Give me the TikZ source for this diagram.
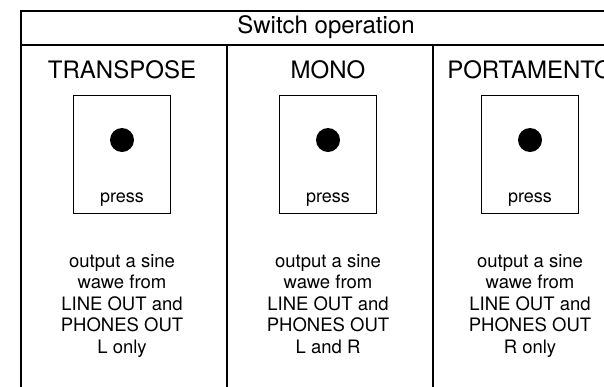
\documentclass[tikz,border=0pt]{standalone}
\usepackage{fontspec}
\setmainfont{TeX Gyre Heros}
\begin{document}
\begin{tikzpicture}[x=1pt,y=-1pt,
  frame/.style={line width=1.4pt},
  title/.style={anchor=base,inner sep=0pt,font=\fontsize{24}{28}\selectfont},
  btn/.style={draw,line width=1pt,minimum width=97pt,minimum height=118pt,inner sep=0pt},
  lamp/.style={circle,fill,minimum size=24pt,inner sep=0pt},
  note/.style={anchor=north,inner sep=0pt,align=center,font=\fontsize{18.5}{21.5}\selectfont}]
\pgfmathsetmacro{\kl}{21}
\pgfmathsetmacro{\kw}{206}
\useasboundingbox[clip](0,0) rectangle (604,386);
%header and column frame
\coordinate (hl) at (\kl,11);
\coordinate (hr) at (\kl+3*\kw,45);
\draw[frame] (hl) rectangle (hr);
\node[title] (head) at (326,33) {Switch operation};
\foreach \i in {0,1,2}
  \draw[frame] (\kl+\i*\kw,45) coordinate (c\i) -- (\kl+\i*\kw,400);
%switches
\foreach \i/\x/\name/\side in {1/122/TRANSPOSE/L only,2/328/MONO/L and R,3/530/PORTAMENTO/R only}{
  \node[title] (t\i) at (\x,78) {\name};
  \node[btn] (b\i) at (\x,154.5) {};
  \node[lamp] (d\i) at (\x,140) {};
  \node[anchor=base,inner sep=0pt,font=\fontsize{18}{21.5}\selectfont] (p\i) at (\x,202) {press};
  \node[note] (o\i) at (\x,254) {output a sine\\wawe from\\LINE OUT and\\PHONES OUT\\\side};
}
\end{tikzpicture}
\end{document}
